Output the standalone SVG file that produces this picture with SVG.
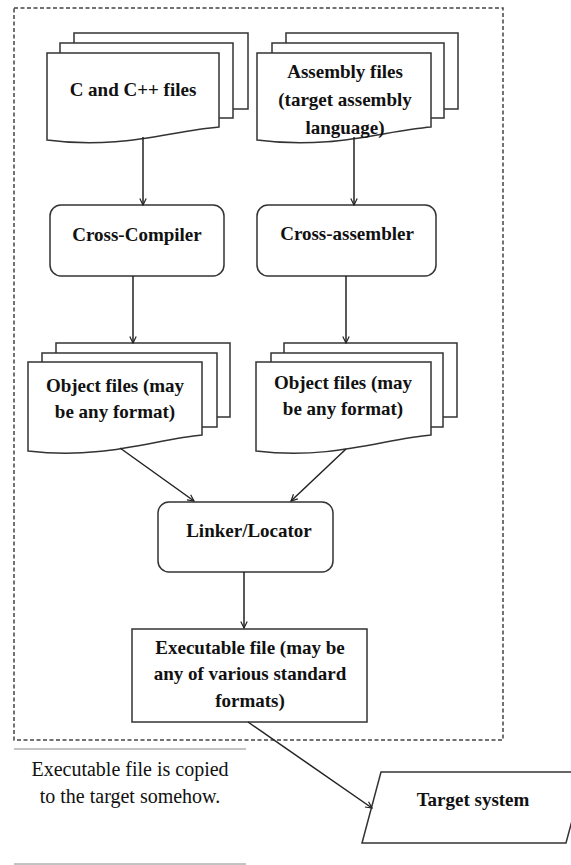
<svg xmlns="http://www.w3.org/2000/svg" width="571" height="865" viewBox="0 0 571 865">
<style>
.pg{fill:#fff;stroke:#333;stroke-width:1.5}
.box{fill:#fff;stroke:#333;stroke-width:1.5}
.lbl{font-family:"Liberation Serif","Times New Roman",serif;font-size:19px;font-weight:bold;fill:#111;text-anchor:middle}
.note{font-family:"Liberation Serif","Times New Roman",serif;font-size:20px;fill:#111;text-anchor:middle}
.con{fill:none;stroke:#222;stroke-width:1.5;marker-end:url(#arr)}
</style>
<defs>
<marker id="arr" viewBox="0 0 10 10" refX="9" refY="5" markerWidth="8" markerHeight="8" markerUnits="userSpaceOnUse" orient="auto">
<path d="M1,1 L9,5 L1,9" fill="none" stroke="#222" stroke-width="1.5"/>
</marker>
</defs>
<rect id="frame" x="14" y="8" width="489" height="732" fill="none" stroke="#444" stroke-width="1.5" stroke-dasharray="4,2.5"/>
<g id="c-files">
<rect class="pg" x="74" y="33" width="174" height="76"/>
<rect class="pg" x="60" y="43" width="173" height="75"/>
<path class="pg" d="M47,140 V53 H219 V127 C170,131 120,150 47,140 Z"/>
<text class="lbl" x="133" y="96">C and C++ files</text>
</g>
<g id="asm-files">
<rect class="pg" x="286" y="33" width="172" height="76"/>
<rect class="pg" x="272" y="43" width="172" height="75"/>
<path class="pg" d="M257,140 V53 H431 V127 C382,131 332,150 257,140 Z"/>
<text class="lbl" x="345" y="77.5">Assembly files</text>
<text class="lbl" x="345" y="105.5">(target assembly</text>
<text class="lbl" x="345" y="133.5">language)</text>
</g>
<g id="cross-compiler">
<rect class="box" x="50" y="205" width="174" height="71" rx="11"/>
<text class="lbl" x="137" y="240.5">Cross-Compiler</text>
</g>
<g id="cross-assembler">
<rect class="box" x="257" y="205" width="179" height="71" rx="11"/>
<text class="lbl" x="347" y="239.5">Cross-assembler</text>
</g>
<g id="obj-left">
<rect class="pg" x="56" y="343" width="174" height="74"/>
<rect class="pg" x="42" y="353" width="175" height="74"/>
<path class="pg" d="M28,451 V362 H202 V435 C155,439 105,460 28,451 Z"/>
<text class="lbl" x="115" y="391.5">Object files (may</text>
<text class="lbl" x="115" y="417.5">be any format)</text>
</g>
<g id="obj-right">
<rect class="pg" x="284" y="343" width="173" height="74"/>
<rect class="pg" x="271" y="353" width="172" height="74"/>
<path class="pg" d="M256,451 V362 H431 V435 C383,439 333,460 256,451 Z"/>
<text class="lbl" x="343" y="388.5">Object files (may</text>
<text class="lbl" x="343" y="414.5">be any format)</text>
</g>
<g id="linker">
<rect class="box" x="158" y="502" width="175" height="70" rx="11"/>
<text class="lbl" x="249" y="536.5">Linker/Locator</text>
</g>
<g id="executable">
<rect class="box" x="132" y="629" width="235" height="93"/>
<text class="lbl" x="250" y="653.5">Executable file (may be</text>
<text class="lbl" x="250" y="679.5">any of various standard</text>
<text class="lbl" x="250" y="706.5">formats)</text>
</g>
<g id="target">
<path class="box" d="M381,772 H585 L566,843 H362 Z"/>
<text class="lbl" x="473" y="805.5">Target system</text>
</g>
<g id="note">
<line x1="14" y1="749" x2="246" y2="749" stroke="#888" stroke-width="1"/>
<line x1="14" y1="864" x2="246" y2="864" stroke="#888" stroke-width="1"/>
<text class="note" x="130" y="776">Executable file is copied</text>
<text class="note" x="130" y="803">to the target somehow.</text>
</g>
<g id="connectors">
<path class="con" d="M143,137 V205"/>
<path class="con" d="M354,137 V205"/>
<path class="con" d="M133,276 V343"/>
<path class="con" d="M346,276 V343"/>
<path class="con" d="M120,448 L194,501"/>
<path class="con" d="M346,449 L291,501"/>
<path class="con" d="M244,572 V628"/>
<path class="con" d="M248,722 L372,808"/>
</g>
</svg>
